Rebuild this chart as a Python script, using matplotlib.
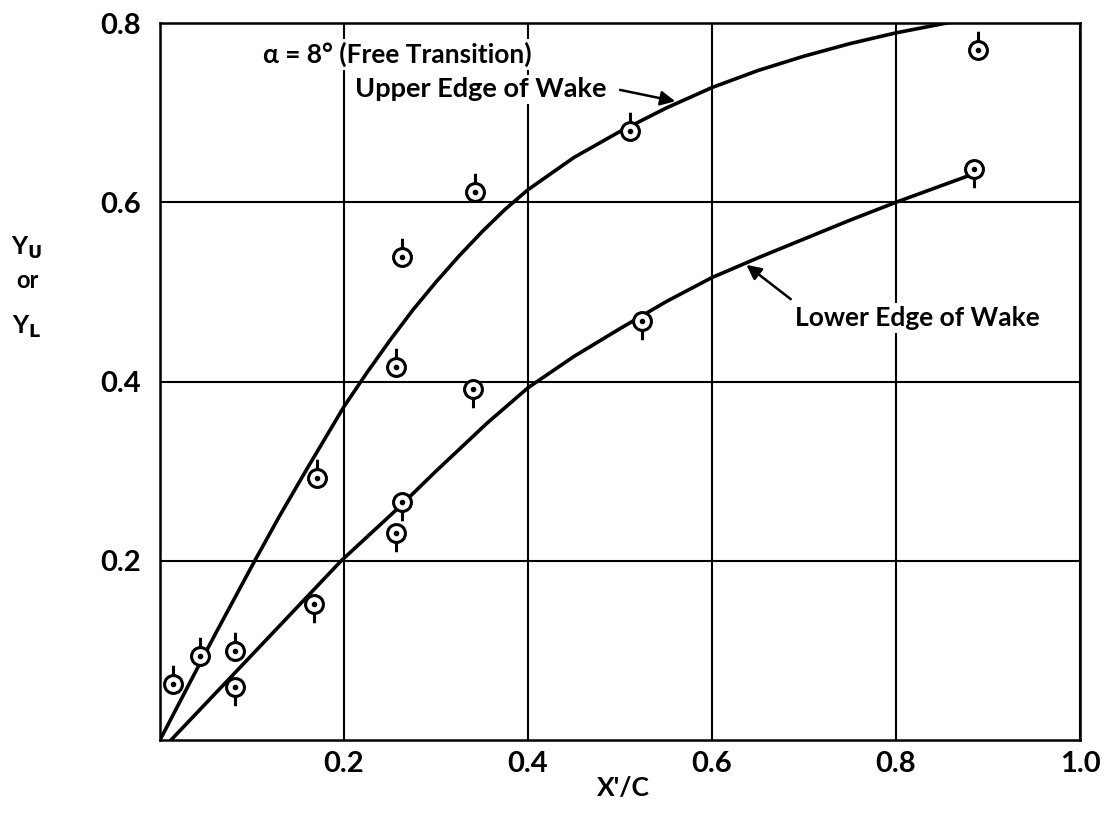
import numpy as np
import matplotlib
matplotlib.use("Agg")
import matplotlib.pyplot as plt
from matplotlib.path import Path
from matplotlib.markers import MarkerStyle

plt.rcParams['font.family'] = ['Lato', 'DejaVu Sans']
plt.rcParams['font.weight'] = 'bold'
plt.rcParams['mathtext.fontset'] = 'dejavusans'

# measured points (stem up = upper edge of wake, stem down = lower edge)
upper_x = [0.014, 0.043, 0.081, 0.171, 0.257, 0.263, 0.342, 0.511, 0.889]
upper_y = [0.063, 0.094, 0.099, 0.292, 0.416, 0.539, 0.611, 0.680, 0.770]
lower_x = [0.082, 0.167, 0.256, 0.263, 0.340, 0.524, 0.885]
lower_y = [0.059, 0.152, 0.231, 0.266, 0.392, 0.467, 0.637]

# faired curves
upper_curve_x = [0.0, 0.036, 0.06, 0.103, 0.13, 0.16, 0.2, 0.225, 0.25, 0.275, 0.3,
                 0.325, 0.35, 0.375, 0.4, 0.45, 0.5, 0.55, 0.6, 0.65, 0.7, 0.75,
                 0.8, 0.85, 0.902]
upper_curve_y = [0.0, 0.071, 0.118, 0.200, 0.250, 0.303, 0.372, 0.410, 0.446, 0.480, 0.511,
                 0.540, 0.567, 0.592, 0.614, 0.650, 0.679, 0.705, 0.728, 0.747, 0.763, 0.777,
                 0.789, 0.799, 0.809]
lower_curve_x = [0.012, 0.1, 0.197, 0.256, 0.3, 0.356, 0.4, 0.45, 0.5, 0.55, 0.6,
                 0.65, 0.7, 0.75, 0.8, 0.88]
lower_curve_y = [0.0, 0.095, 0.200, 0.256, 0.300, 0.354, 0.393, 0.428, 0.459, 0.489, 0.516,
                 0.538, 0.559, 0.580, 0.600, 0.630]

xticks = [0.2, 0.4, 0.6, 0.8, 1.0]
yticks = [0.2, 0.4, 0.6, 0.8]


def flag_marker(up=True):
    circ = Path.unit_circle()
    s = 1 if up else -1
    stem = Path([(0, s * 1.0), (0, s * 2.1)], [Path.MOVETO, Path.LINETO])
    return MarkerStyle(Path.make_compound_path(circ, stem))


fig = plt.figure(figsize=(11.06, 8.14), dpi=100)
ax = fig.add_axes([160 / 1106, 74 / 814, 920 / 1106, 717 / 814])

ax.plot(upper_curve_x, upper_curve_y, color='black', lw=2.6, zorder=3)
ax.plot(lower_curve_x, lower_curve_y, color='black', lw=2.6, zorder=3)

for xs, ys, up in [(upper_x, upper_y, True), (lower_x, lower_y, False)]:
    ax.plot(xs, ys, ls='none', marker=flag_marker(up), ms=27, mfc='white',
            mec='black', mew=2.2, zorder=5)
    ax.plot(xs, ys, ls='none', marker='o', ms=3, color='black', zorder=6)

ax.set_xlim(0, 1.0)
ax.set_ylim(0, 0.8)
ax.set_xticks(xticks)
ax.set_yticks(yticks)
ax.set_xticklabels([f"{v:.1f}" for v in xticks])
ax.set_yticklabels([f"{v:.1f}" for v in yticks])
ax.tick_params(length=0, labelsize=21)
ax.tick_params(axis='y', pad=14)
ax.tick_params(axis='x', pad=8)
ax.grid(True, color='black', lw=1.5)
for sp in ax.spines.values():
    sp.set_linewidth(1.8)

box = dict(facecolor='white', edgecolor='none', pad=2)
ax.text(0.112, 0.765, "α = 8° (Free Transition)", fontsize=19, va='center',
        ha='left', bbox=box, zorder=4)
ax.text(0.212, 0.726, "Upper Edge of Wake", fontsize=19.5, va='center',
        ha='left', bbox=box, zorder=4)
ax.text(0.690, 0.471, "Lower Edge of Wake", fontsize=19, va='center',
        ha='left', bbox=box, zorder=4)

arrow = dict(arrowstyle='-|>', color='black', lw=1.8, mutation_scale=22)
ax.annotate("", xy=(0.563, 0.712), xytext=(0.497, 0.726), arrowprops=arrow, zorder=4)
ax.annotate("", xy=(0.635, 0.532), xytext=(0.688, 0.490), arrowprops=arrow, zorder=4)

fig.text(623 / 1106, 1 - 788 / 814, "X'/C", fontsize=19, ha='center', va='center')
fig.text(27 / 1106, 1 - 248 / 814, r"Y$_\mathsf{U}$", fontsize=18, ha='center', va='center')
fig.text(27 / 1106, 1 - 280 / 814, "or", fontsize=17, ha='center', va='center')
fig.text(27 / 1106, 1 - 327 / 814, r"Y$_\mathsf{L}$", fontsize=18, ha='center', va='center')

fig.savefig("out.png", dpi=100)
